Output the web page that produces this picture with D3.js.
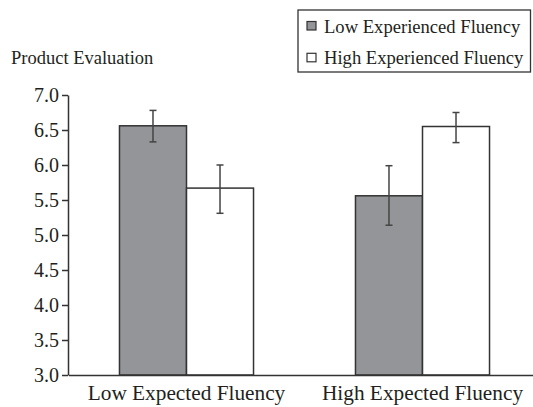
<!DOCTYPE html>
<html>
<head>
<meta charset="utf-8">
<script src="https://cdn.jsdelivr.net/npm/d3@7"></script>
<style>
  html, body { margin: 0; padding: 0; background: #fff; }
  svg { display: block; }
  text { font-family: "Liberation Serif", "Times New Roman", serif; fill: #231f20; }
</style>
</head>
<body>
<script>
const categories = ["Low Expected Fluency", "High Expected Fluency"];
const seriesNames = ["Low Experienced Fluency", "High Experienced Fluency"];
const lowExperienced = [6.56, 5.56];
const highExperienced = [5.67, 6.55];
const lowExperiencedUpper = [6.78, 5.99];
const lowExperiencedLower = [6.33, 5.14];
const highExperiencedUpper = [6.00, 6.75];
const highExperiencedLower = [5.31, 6.32];
const yTicks = [3.0, 3.5, 4.0, 4.5, 5.0, 5.5, 6.0, 6.5, 7.0];
const yTitle = "Product Evaluation";

const W = 533, H = 407;
const svg = d3.select("body").append("svg").attr("width", W).attr("height", H);

const y = d3.scaleLinear().domain([3, 7]).range([375, 95]);
const x0 = d3.scaleBand().domain(categories).range([68.5, 540.5]).paddingInner(0.432).paddingOuter(0.216);
const x1 = d3.scaleBand().domain(seriesNames).range([0, x0.bandwidth()]);
const fills = {"Low Experienced Fluency": "#939598", "High Experienced Fluency": "#ffffff"};

const rows = [];
categories.forEach((c, i) => {
  rows.push({cat: c, s: seriesNames[0], v: lowExperienced[i], hi: lowExperiencedUpper[i], lo: lowExperiencedLower[i]});
  rows.push({cat: c, s: seriesNames[1], v: highExperienced[i], hi: highExperiencedUpper[i], lo: highExperiencedLower[i]});
});

// bars
svg.append("g").selectAll("rect").data(rows).join("rect")
  .attr("x", d => x0(d.cat) + x1(d.s))
  .attr("y", d => y(d.v))
  .attr("width", x1.bandwidth())
  .attr("height", d => y(3) - y(d.v))
  .attr("fill", d => fills[d.s])
  .attr("stroke", "#333")
  .attr("stroke-width", 1.5);

// error bars
const eb = svg.append("g").attr("stroke", "#444").attr("stroke-width", 1.5);
rows.forEach(d => {
  const cx = x0(d.cat) + x1(d.s) + x1.bandwidth() / 2;
  eb.append("line").attr("x1", cx).attr("x2", cx).attr("y1", y(d.hi)).attr("y2", y(d.lo));
  eb.append("line").attr("x1", cx - 3.5).attr("x2", cx + 3.5).attr("y1", y(d.hi)).attr("y2", y(d.hi));
  eb.append("line").attr("x1", cx - 3.5).attr("x2", cx + 3.5).attr("y1", y(d.lo)).attr("y2", y(d.lo));
});

// y axis
const yAxis = d3.axisLeft(y).tickValues(yTicks).tickFormat(d3.format(".1f")).tickSize(6).tickSizeOuter(0);
const gy = svg.append("g").attr("transform", "translate(68,0)").call(yAxis);
gy.select(".domain").attr("stroke", "#333").attr("stroke-width", 1.5);
gy.selectAll(".tick line").attr("stroke", "#333").attr("stroke-width", 1.5);
gy.selectAll(".tick text").attr("font-size", 20).attr("x", -9).attr("dy", "0.34em")
  .style("font-family", '"Liberation Serif", serif').attr("fill", "#231f20");

// x axis
const xAxis = d3.axisBottom(x0).tickSize(0).tickSizeOuter(0);
const gx = svg.append("g").attr("transform", "translate(0,375)").call(xAxis);
gx.select(".domain").attr("stroke", "#333").attr("stroke-width", 1.5);
gx.selectAll(".tick text").attr("font-size", 21.3).attr("y", 24.5).attr("dy", 0)
  .style("font-family", '"Liberation Serif", serif').attr("fill", "#231f20");

// y title
svg.append("text").attr("x", 11).attr("y", 64).attr("font-size", 18.5).text(yTitle);

// legend
const lg = svg.append("g");
lg.append("rect").attr("x", 298).attr("y", 10).attr("width", 232.5).attr("height", 62)
  .attr("fill", "#fff").attr("stroke", "#333").attr("stroke-width", 1.3);
seriesNames.forEach((s, i) => {
  const yy = 21.5 + i * 31.8;
  lg.append("rect").attr("x", 307).attr("y", yy).attr("width", 9).attr("height", 8.5)
    .attr("fill", fills[s]).attr("stroke", "#333").attr("stroke-width", 1.2);
  lg.append("text").attr("x", 324).attr("y", yy + 11).attr("font-size", 18.6).text(s);
});
</script>
</body>
</html>
